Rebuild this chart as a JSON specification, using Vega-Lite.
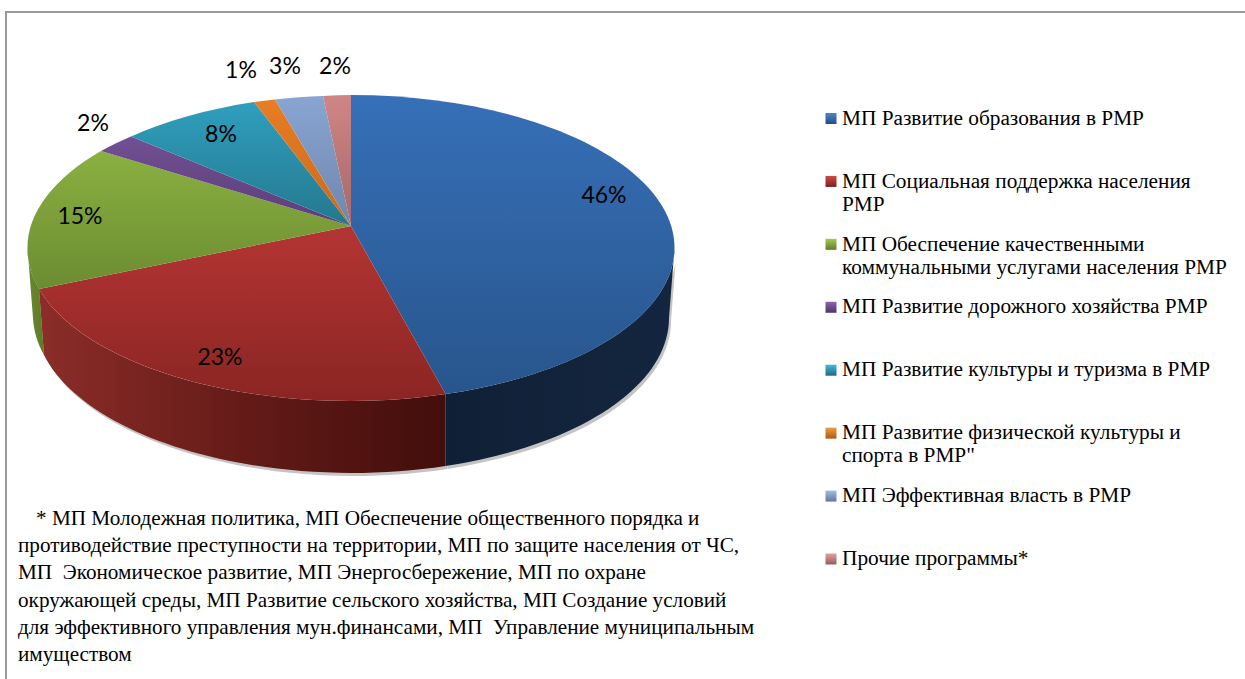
{"$schema":"https://vega.github.io/schema/vega-lite/v6.json","width":1245,"height":679,"padding":0,"autosize":{"type":"fit","contains":"padding"},"background":"#ffffff","config":{"view":{"stroke":null}},
"data":{"values":[
{"order":1,"name":"МП Развитие образования в РМР","share":46,"label":"46%"},
{"order":2,"name":"МП Социальная поддержка населения РМР","share":23,"label":"23%"},
{"order":3,"name":"МП Обеспечение качественными коммунальными услугами населения РМР","share":15,"label":"15%"},
{"order":4,"name":"МП Развитие дорожного хозяйства РМР","share":2,"label":"2%"},
{"order":5,"name":"МП Развитие культуры и туризма в РМР","share":8,"label":"8%"},
{"order":6,"name":"МП Развитие физической культуры и спорта в РМР\"","share":1,"label":"1%"},
{"order":7,"name":"МП Эффективная власть в РМР","share":3,"label":"3%"},
{"order":8,"name":"Прочие программы*","share":2,"label":"2%"}]},
"layer":[
{"data":{"values":[{"part":"frame"}]},"mark":{"type":"point","filled":false,"stroke":"#9a9a9a","strokeWidth":2,"opacity":1,"size":4,"shape":"M6,679 L6,12 L1245,12","clip":false},"encoding":{"x":{"datum":0,"axis":null,"scale":{"domain":[0,1245],"range":[0,1245]}},"y":{"datum":0,"axis":null,"scale":{"domain":[0,679],"range":[0,679]}}}},
{"transform":[{"filter":"datum.order<=3"}],"mark":{"type":"point","filled":true,"opacity":1,"size":4,"fill":"#c4c4c4"},"encoding":{"x":{"datum":353,"axis":null,"scale":{"domain":[0,1245],"range":[0,1245]}},"y":{"datum":229,"axis":null,"scale":{"domain":[0,679],"range":[0,679]}},
"shape":{"field":"name","type":"nominal","legend":null,"scale":{"domain":["МП Развитие образования в РМР","МП Социальная поддержка населения РМР","МП Обеспечение качественными коммунальными услугами населения РМР"],"range":["M94.5,168 A323.5,153 0 0 0 323.5,22 L318,92 A318,155 0 0 1 94.5,240 Z","M94.5,168 L94.5,240 A318,155 0 0 1 0,247 A318,155 0 0 1 -307,129 L-312,63 A323.5,153 0 0 0 0,175 A323.5,153 0 0 0 94.5,168 Z","M-312,63 L-307,129 A318,155 0 0 1 -318,92 L-323.5,22 A323.5,153 0 0 0 -312,63 Z"]}}}},
{"transform":[{"filter":"datum.order<=3"}],"mark":{"type":"point","filled":true,"opacity":1,"size":4},"encoding":{"x":{"datum":351,"axis":null,"scale":{"domain":[0,1245],"range":[0,1245]}},"y":{"datum":226,"axis":null,"scale":{"domain":[0,679],"range":[0,679]}},
"fill":{"field":"name","type":"nominal","legend":null,"scale":{"domain":["МП Развитие образования в РМР","МП Социальная поддержка населения РМР","МП Обеспечение качественными коммунальными услугами населения РМР"],"range":[
{"expr":"{gradient:'linear',x1:0,y1:0,x2:1,y2:0,stops:[{offset:0,color:'#0f2036'},{offset:1,color:'#14263f'}]}"},
{"expr":"{gradient:'linear',x1:0,y1:0,x2:1,y2:0,stops:[{offset:0,color:'#8c2d28'},{offset:0.5,color:'#641b18'},{offset:1,color:'#420e0b'}]}"},
{"expr":"{gradient:'linear',x1:0,y1:0,x2:1,y2:0,stops:[{offset:0,color:'#6a8a2e'},{offset:1,color:'#5e7a28'}]}"}]}},
"shape":{"field":"name","type":"nominal","legend":null,"scale":{"domain":["МП Развитие образования в РМР","МП Социальная поддержка населения РМР","МП Обеспечение качественными коммунальными услугами населения РМР"],"range":["M94.5,168 A323.5,153 0 0 0 323.5,22 L318,92 A318,155 0 0 1 94.5,240 Z","M94.5,168 L94.5,240 A318,155 0 0 1 0,247 A318,155 0 0 1 -307,129 L-312,63 A323.5,153 0 0 0 0,175 A323.5,153 0 0 0 94.5,168 Z","M-312,63 L-307,129 A318,155 0 0 1 -318,92 L-323.5,22 A323.5,153 0 0 0 -312,63 Z"]}}}},
{"mark":{"type":"point","filled":true,"opacity":1,"size":4},"encoding":{"x":{"datum":351,"axis":null,"scale":{"domain":[0,1245],"range":[0,1245]}},"y":{"datum":226,"axis":null,"scale":{"domain":[0,679],"range":[0,679]}},
"fill":{"field":"name","type":"nominal","legend":null,"scale":{"domain":["МП Развитие образования в РМР","МП Социальная поддержка населения РМР","МП Обеспечение качественными коммунальными услугами населения РМР","МП Развитие дорожного хозяйства РМР","МП Развитие культуры и туризма в РМР","МП Развитие физической культуры и спорта в РМР\"","МП Эффективная власть в РМР","Прочие программы*"],"range":[
{"expr":"{gradient:'linear',x1:0,y1:0,x2:0,y2:1,stops:[{offset:0,color:'#3670b8'},{offset:1,color:'#28558c'}]}"},
{"expr":"{gradient:'linear',x1:0,y1:0,x2:0,y2:1,stops:[{offset:0,color:'#b43533'},{offset:1,color:'#8a2523'}]}"},
{"expr":"{gradient:'linear',x1:0,y1:0,x2:0,y2:1,stops:[{offset:0,color:'#8bb040'},{offset:1,color:'#6b8c32'}]}"},
{"expr":"{gradient:'linear',x1:0,y1:0,x2:0,y2:1,stops:[{offset:0,color:'#724f93'},{offset:1,color:'#5a3f78'}]}"},
{"expr":"{gradient:'linear',x1:0,y1:0,x2:0,y2:1,stops:[{offset:0,color:'#2f9fbe'},{offset:1,color:'#24788e'}]}"},
{"expr":"{gradient:'linear',x1:0,y1:0,x2:0,y2:1,stops:[{offset:0,color:'#e87d24'},{offset:1,color:'#c96a1c'}]}"},
{"expr":"{gradient:'linear',x1:0,y1:0,x2:0,y2:1,stops:[{offset:0,color:'#88a5d3'},{offset:1,color:'#7086ab'}]}"},
{"expr":"{gradient:'linear',x1:0,y1:0,x2:0,y2:1,stops:[{offset:0,color:'#d08585'},{offset:1,color:'#a56868'}]}"}]}},
"shape":{"field":"name","type":"nominal","legend":null,"scale":{"domain":["МП Развитие образования в РМР","МП Социальная поддержка населения РМР","МП Обеспечение качественными коммунальными услугами населения РМР","МП Развитие дорожного хозяйства РМР","МП Развитие культуры и туризма в РМР","МП Развитие физической культуры и спорта в РМР\"","МП Эффективная власть в РМР","Прочие программы*"],"range":[
"M0,0 L0,-131 A323.5,153 0 0 1 323.5,22 A323.5,153 0 0 1 94.5,168 Z",
"M0,0 L94.5,168 A323.5,153 0 0 1 0,175 A323.5,153 0 0 1 -312,63 Z",
"M0,0 L-312,63 A323.5,153 0 0 1 -323.5,22 A323.5,153 0 0 1 -250,-75 Z",
"M0,0 L-250,-75 A323.5,153 0 0 1 -220,-89.5 Z",
"M0,0 L-220,-89.5 A323.5,153 0 0 1 -97,-124 Z",
"M0,0 L-97,-124 A323.5,153 0 0 1 -76,-126.5 Z",
"M0,0 L-76,-126.5 A323.5,153 0 0 1 -28,-130 Z",
"M0,0 L-28,-130 A323.5,153 0 0 1 0,-131 Z"]}}}},
{"mark":{"type":"text","font":"Lato","fontSize":23,"color":"#000000","align":"center","baseline":"middle"},"encoding":{"text":{"field":"label"},
"x":{"field":"order","type":"quantitative","axis":null,"scale":{"domain":[1,2,3,4,5,6,7,8],"range":[604,220,80,93,221,241,285,335]}},
"y":{"field":"order","type":"quantitative","axis":null,"scale":{"domain":[1,2,3,4,5,6,7,8],"range":[196,358,217,124,135,71,67,67]}}}},
{"mark":{"type":"point","filled":true,"opacity":1,"size":121,"shape":"square"},"encoding":{"x":{"datum":831,"axis":null,"scale":{"domain":[0,1245],"range":[0,1245]}},"y":{"field":"order","type":"quantitative","axis":null,"scale":{"domain":[1,8],"range":[118.5,559]}},
"fill":{"field":"name","type":"nominal","legend":null,"scale":{"domain":["МП Развитие образования в РМР","МП Социальная поддержка населения РМР","МП Обеспечение качественными коммунальными услугами населения РМР","МП Развитие дорожного хозяйства РМР","МП Развитие культуры и туризма в РМР","МП Развитие физической культуры и спорта в РМР\"","МП Эффективная власть в РМР","Прочие программы*"],"range":[
{"expr":"{gradient:'linear',x1:0,y1:0,x2:0,y2:1,stops:[{offset:0,color:'#4a86cc'},{offset:1,color:'#244c7e'}]}"},
{"expr":"{gradient:'linear',x1:0,y1:0,x2:0,y2:1,stops:[{offset:0,color:'#d04a47'},{offset:1,color:'#7a201e'}]}"},
{"expr":"{gradient:'linear',x1:0,y1:0,x2:0,y2:1,stops:[{offset:0,color:'#a5c850'},{offset:1,color:'#5f7d2b'}]}"},
{"expr":"{gradient:'linear',x1:0,y1:0,x2:0,y2:1,stops:[{offset:0,color:'#8a66ad'},{offset:1,color:'#4e366a'}]}"},
{"expr":"{gradient:'linear',x1:0,y1:0,x2:0,y2:1,stops:[{offset:0,color:'#45b8d6'},{offset:1,color:'#1f6a7e'}]}"},
{"expr":"{gradient:'linear',x1:0,y1:0,x2:0,y2:1,stops:[{offset:0,color:'#f29a3e'},{offset:1,color:'#a85a16'}]}"},
{"expr":"{gradient:'linear',x1:0,y1:0,x2:0,y2:1,stops:[{offset:0,color:'#a3bde2'},{offset:1,color:'#62769a'}]}"},
{"expr":"{gradient:'linear',x1:0,y1:0,x2:0,y2:1,stops:[{offset:0,color:'#e2a0a0'},{offset:1,color:'#955c5c'}]}"}]}}}},
{"data":{"values":[
{"row":1,"text":"МП Развитие образования в РМР"},
{"row":2,"text":"МП Социальная поддержка населения"},
{"row":3,"text":"РМР"},
{"row":4,"text":"МП Обеспечение качественными"},
{"row":5,"text":"коммунальными услугами населения РМР"},
{"row":6,"text":"МП Развитие дорожного хозяйства РМР"},
{"row":7,"text":"МП Развитие культуры и туризма в РМР"},
{"row":8,"text":"МП Развитие физической культуры и"},
{"row":9,"text":"спорта в РМР\""},
{"row":10,"text":"МП Эффективная власть в РМР"},
{"row":11,"text":"Прочие программы*"}]},
"mark":{"type":"text","font":"Liberation Serif","fontSize":21.3,"color":"#000000","align":"left","baseline":"middle"},"encoding":{"text":{"field":"text"},
"x":{"datum":842,"axis":null,"scale":{"domain":[0,1245],"range":[0,1245]}},
"y":{"field":"row","type":"quantitative","axis":null,"scale":{"domain":[1,2,3,4,5,6,7,8,9,10,11],"range":[119,182,205,245,268,307,370,433,456,496,559]}}}},
{"data":{"values":[
{"line":1,"text":"* МП Молодежная политика, МП Обеспечение общественного порядка и"},
{"line":2,"text":"противодействие преступности на территории, МП по защите населения от ЧС,"},
{"line":3,"text":"МП\u00a0 Экономическое развитие, МП Энергосбережение, МП по охране"},
{"line":4,"text":"окружающей среды, МП Развитие сельского хозяйства, МП Создание условий"},
{"line":5,"text":"для эффективного управления мун.финансами, МП\u00a0 Управление муниципальным"},
{"line":6,"text":"имуществом"}]},
"mark":{"type":"text","font":"Liberation Serif","fontSize":21.2,"color":"#000000","align":"left","baseline":"middle"},"encoding":{"text":{"field":"text"},
"x":{"field":"line","type":"quantitative","axis":null,"scale":{"domain":[1,2,6],"range":[36,18,18]}},
"y":{"field":"line","type":"quantitative","axis":null,"scale":{"domain":[1,6],"range":[519,655]}}}}
],
"resolve":{"scale":{"x":"independent","y":"independent","fill":"independent","shape":"independent"},"axis":{"x":"independent","y":"independent"}}}
